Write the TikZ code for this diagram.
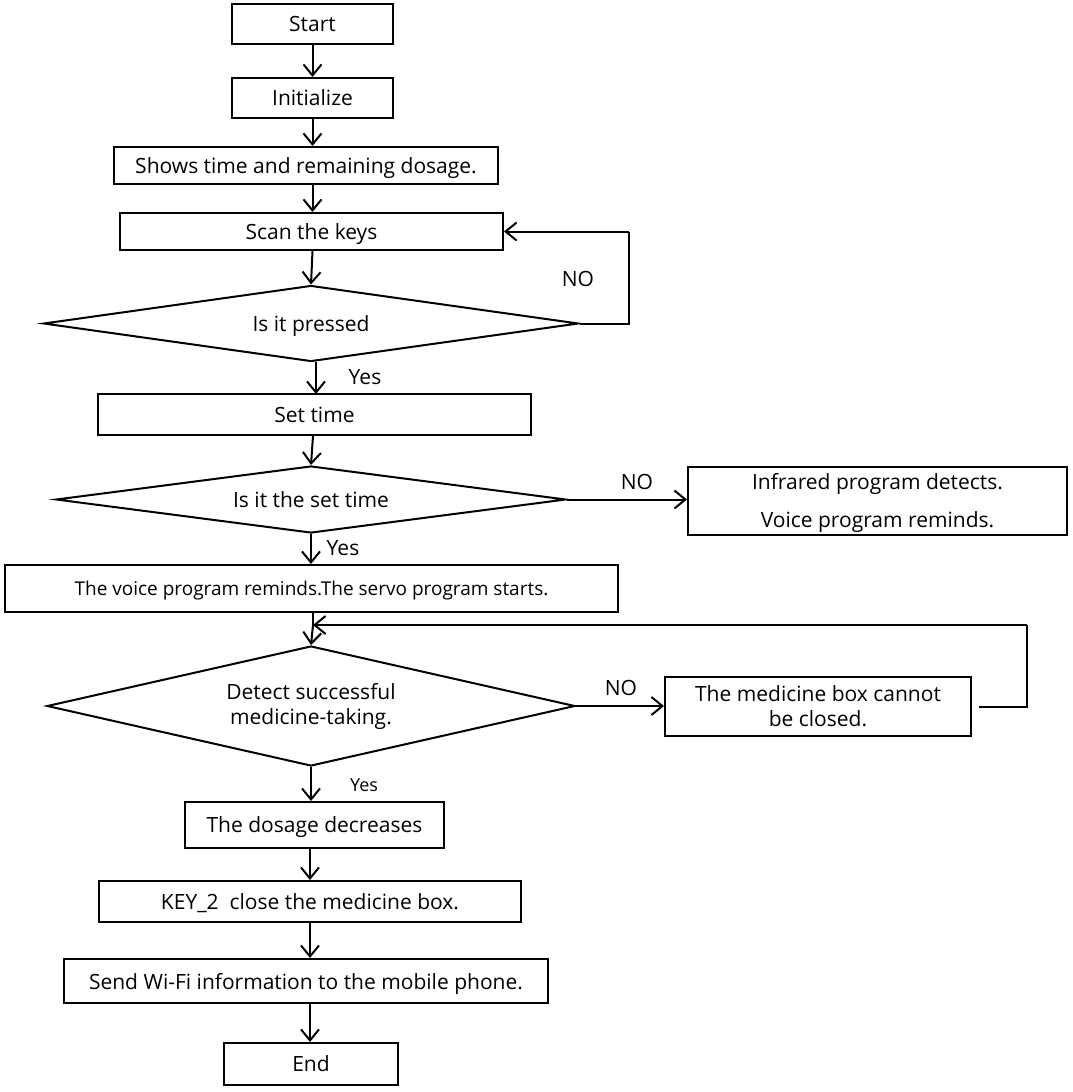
\documentclass[tikz,border=0pt]{standalone}
\usepackage{fontspec}
\setmainfont{Open Sans}
\usetikzlibrary{shapes.geometric,arrows.meta}
\begin{document}
\begin{tikzpicture}[x=1pt,y=-1pt,
  box/.style={draw, line width=2pt, inner sep=0pt, align=center, font=\fontsize{21}{25}\selectfont},
  sbox/.style={box, text depth=0pt},
  dec/.style={draw, diamond, line width=2pt, inner sep=0pt, align=center, font=\fontsize{21}{25}\selectfont},
  arr/.style={line width=2pt, -{Straight Barb[length=11pt,width=18pt,line width=2pt]}},
  ln/.style={line width=2pt},
  lab/.style={inner sep=0pt, font=\fontsize{21}{25}\selectfont},
  slab/.style={inner sep=0pt, font=\fontsize{18}{21}\selectfont}]
\useasboundingbox (0,0) rectangle (1073,1092);
% boxes
\node[sbox, minimum width=161, minimum height=40] (start) at (312.5,24) {Start};
\node[sbox, minimum width=161, minimum height=40] (init) at (312.5,98) {Initialize};
\node[sbox, minimum width=384, minimum height=37] (shows) at (306,165.5) {Shows time and remaining dosage.};
\node[sbox, minimum width=383, minimum height=37] (scan) at (311.5,231.5) {Scan the keys};
\node[dec, aspect=7.04, minimum width=535, minimum height=76, text depth=0pt] (d1) at (311,323.5) {Is it pressed};
\node[sbox, minimum width=433, minimum height=41] (set) at (314.5,414.5) {Set time};
\node[dec, aspect=7.61, minimum width=510, minimum height=67, text depth=0pt] (d2) at (311,499.5) {Is it the set time};
\node[box, minimum width=379, minimum height=68, text depth=2pt] (ir) at (877.5,501) {Infrared program detects.\\[13pt]Voice program reminds.};
\node[sbox, minimum width=613, minimum height=47, font=\fontsize{19}{22}\selectfont] (voice) at (311.5,588.5) {The voice program reminds.The servo program starts.};
\node[dec, aspect=4.4, minimum width=528, minimum height=120] (d3) at (311,706) {Detect successful\\medicine-taking.};
\node[box, minimum width=306, minimum height=59] (mb) at (818,706.5) {The medicine box cannot\\be closed.};
\node[sbox, minimum width=259, minimum height=46] (dose) at (314.5,825) {The dosage decreases};
\node[sbox, minimum width=422, minimum height=41] (key) at (310,901.5) {KEY\_2\ \ close the medicine box.};
\node[sbox, minimum width=484, minimum height=44] (send) at (306,981) {Send Wi-Fi information to the mobile phone.};
\node[sbox, minimum width=174, minimum height=42] (end) at (311,1064) {End};
% coordinates
\coordinate (c1) at (629,323.5);
\coordinate (c2) at (629,231.5);
\coordinate (j3) at (313,625);
\coordinate (c3) at (979,706.5);
\coordinate (c4) at (1027,706.5);
\coordinate (c5) at (1027,625);
% connectors
\draw[arr] (start.south) -- (init.north);
\draw[arr] (init.south) -- (init.south |- shows.north);
\draw[arr] (init.south |- shows.south) -- (init.south |- scan.north);
\draw[arr] (init.south |- scan.south) -- (d1.north);
\draw[ln] (d1.east) -- (c1) -- (c2);
\draw[arr] (c2) -- (scan.east);
\draw[arr] (316,361.5) -- (316,394) coordinate (setn);
\draw[arr] (set.south -| 313,0) -- (d2.north);
\draw[arr] (d2.east) -- (d2.east -| ir.west);
\draw[arr] (d2.south) -- (d2.south |- voice.north);
\draw[ln] (j3 |- voice.south) -- (j3);
\draw[arr] (j3) -- (d3.north);
\draw[arr] (d3.east) -- (d3.east -| mb.west);
\draw[ln] (c3) -- (c4) -- (c5);
\draw[arr] (c5) -- (j3);
\draw[arr] (d3.south) -- (d3.south |- dose.north);
\draw[arr] (dose.south -| key.north) -- (key.north);
\draw[arr] (key.south) -- (key.south |- send.north);
\draw[arr] (key.south |- send.south) -- (key.south |- end.north);
% labels
\node[lab] (no1) at (578,279) {NO};
\node[lab] (yes1) at (365,377) {Yes};
\node[lab] (no2) at (637,482) {NO};
\node[lab] (yes2) at (343,548) {Yes};
\node[lab] (no3) at (621,688) {NO};
\node[slab] (yes3) at (364,785) {Yes};
\end{tikzpicture}
\end{document}
